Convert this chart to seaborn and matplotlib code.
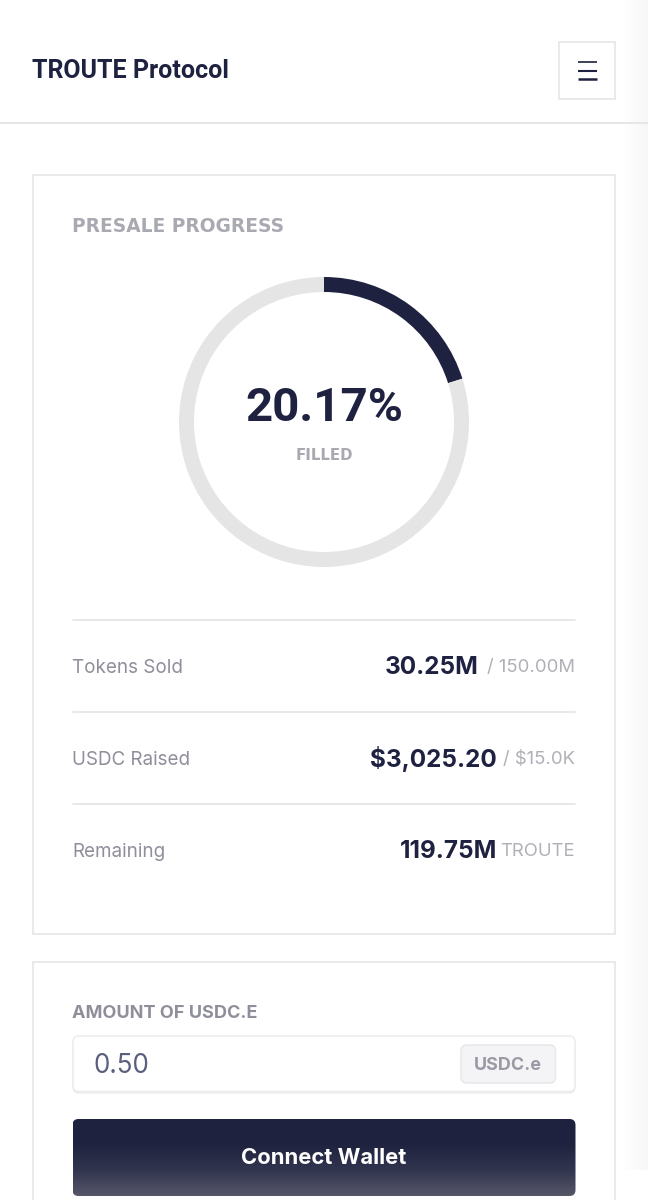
import numpy as np
import matplotlib.pyplot as plt
from matplotlib.patches import FancyBboxPatch, Rectangle
import seaborn as sns

# Data
filled_pct = [20.17, 79.83]
ring_colors = ['#1e2140', '#e5e5e5']
row_labels = ['Tokens Sold', 'USDC Raised', 'Remaining']
row_values = ['30.25M', '$3,025.20', '119.75M']
row_totals = ['/ 150.00M', '/ $15.0K', 'TROUTE']

NAVY = '#1e2140'
GREY = '#a9a9b2'
LINE = '#e6e6e9'

sns.set_theme(style='white')
plt.rcParams['font.family'] = ['Inter', 'DejaVu Sans']

W, H = 648, 1200
fig = plt.figure(figsize=(W / 100, H / 100), dpi=100, facecolor='white')
ax = fig.add_axes([0, 0, 1, 1])
ax.set_xlim(0, W)
ax.set_ylim(H, 0)
ax.axis('off')


def px(size):
    return size * 0.72


def box(x0, y0, x1, y1, ec=LINE, fc='white', lw=1.2, r=0, z=2):
    if r:
        p = FancyBboxPatch((x0, y0), x1 - x0, y1 - y0, boxstyle=f'round,pad=0,rounding_size={r}',
                           ec=ec, fc=fc, lw=lw, zorder=z)
    else:
        p = Rectangle((x0, y0), x1 - x0, y1 - y0, ec=ec, fc=fc, lw=lw, zorder=z)
    ax.add_patch(p)
    return p


# right edge shading
shade = np.linspace(0, 1, 24).reshape(1, -1)
edge_cmap = sns.blend_palette(['#ffffff', '#f7f7f8'], as_cmap=True)
ax.imshow(shade, extent=(622, 648, 1170, 0), cmap=edge_cmap, aspect='auto', zorder=0)
ax.set_xlim(0, W)
ax.set_ylim(H, 0)

# header
ax.text(32, 71.5, 'TROUTE Protocol', fontsize=px(25), fontweight='bold', color=NAVY,
        family='Roboto', va='center', ha='left', zorder=5)
box(558.5, 42, 615, 98.5)
for y, lw in zip([62, 70.5, 79], [1.2, 1.5, 1.8]):
    ax.plot([578, 597], [y, y], color=NAVY, lw=lw, zorder=5, solid_capstyle='butt')
ax.plot([0, 648], [123, 123], color=LINE, lw=1.4, zorder=1)

# cards
box(33, 174.5, 615, 934)
box(33, 962, 615, 1215)

ax.text(72.5, 226, 'PRESALE PROGRESS', fontsize=px(18.7), fontweight='bold', color=GREY,
        family='DejaVu Sans', va='center', ha='left', zorder=5)

# progress ring
ring = fig.add_axes([179 / W, 1 - 567 / H, 290 / W, 290 / H])
ring.pie(filled_pct, colors=ring_colors, startangle=90, counterclock=False, radius=1,
         wedgeprops={'width': 15 / 145, 'linewidth': 0})
ring.set_xlim(-1, 1)
ring.set_ylim(-1, 1)
ax.text(324, 408, '20.17%', fontsize=px(47.5), fontweight='bold', color=NAVY,
        family='Roboto', va='center', ha='center', zorder=5)
ax.text(324, 455.5, 'FILLED', fontsize=px(15), fontweight='bold', color=GREY,
        family='DejaVu Sans', va='center', ha='center', zorder=5)

# stats rows
for y in [619.5, 711.5, 803.5]:
    ax.plot([72.5, 575], [y, y], color=LINE, lw=1.3, zorder=3)
row_y = [668, 760, 852]
value_right = [479, 497, 497]
for label, val, total, y, vr in zip(row_labels, row_values, row_totals, row_y, value_right):
    ax.text(72.5, y, label, fontsize=px(18.8), color='#8f8f9b', va='center', ha='left', zorder=5)
    ax.text(vr, y - 1, val, fontsize=px(24.3), fontweight='bold', color=NAVY, va='center', ha='right', zorder=5)
    ax.text(575, y, total, fontsize=px(18.5), color='#b0b0b8', va='center', ha='right', zorder=5)

# amount input
ax.text(72.5, 1014, 'AMOUNT OF USDC.E', fontsize=px(18.1), fontweight='bold', color='#8f8f9b',
        va='center', ha='left', zorder=5)
box(73, 1037, 575, 1093, ec='#eeeef0', fc='#eeeef0', lw=1.0, r=6, z=2)
box(73, 1036, 575, 1091.5, ec='#ececef', fc='white', lw=1.1, r=6, z=3)
ax.text(93.5, 1066, '0.50', fontsize=px(26), color='#5a5f7d', va='center', ha='left', zorder=5)
box(461, 1045, 555.5, 1083, ec='#e8e8ec', fc='#f4f4f6', lw=1.1, r=6, z=4)
ax.text(508, 1065, 'USDC.e', fontsize=px(18), fontweight='bold', color='#9a9aa5',
        va='center', ha='center', zorder=5)

# button with gradient
grad = np.linspace(0, 1, 77).reshape(-1, 1)
cmap = sns.blend_palette(['#1f2240', '#20233f', '#32354f', '#565668'], as_cmap=True)
im = ax.imshow(grad, extent=(72.5, 575.5, 1196, 1119), cmap=cmap, aspect='auto', zorder=4)
clip = FancyBboxPatch((72.5, 1119), 503, 77, boxstyle='round,pad=0,rounding_size=6',
                      transform=ax.transData, fc='none', ec='none')
ax.add_patch(clip)
im.set_clip_path(clip)
ax.set_xlim(0, W)
ax.set_ylim(H, 0)
ax.text(324, 1158, 'Connect Wallet', fontsize=px(22), fontweight='bold', color='white',
        va='center', ha='center', zorder=6)

fig.savefig('out.png', dpi=100)
